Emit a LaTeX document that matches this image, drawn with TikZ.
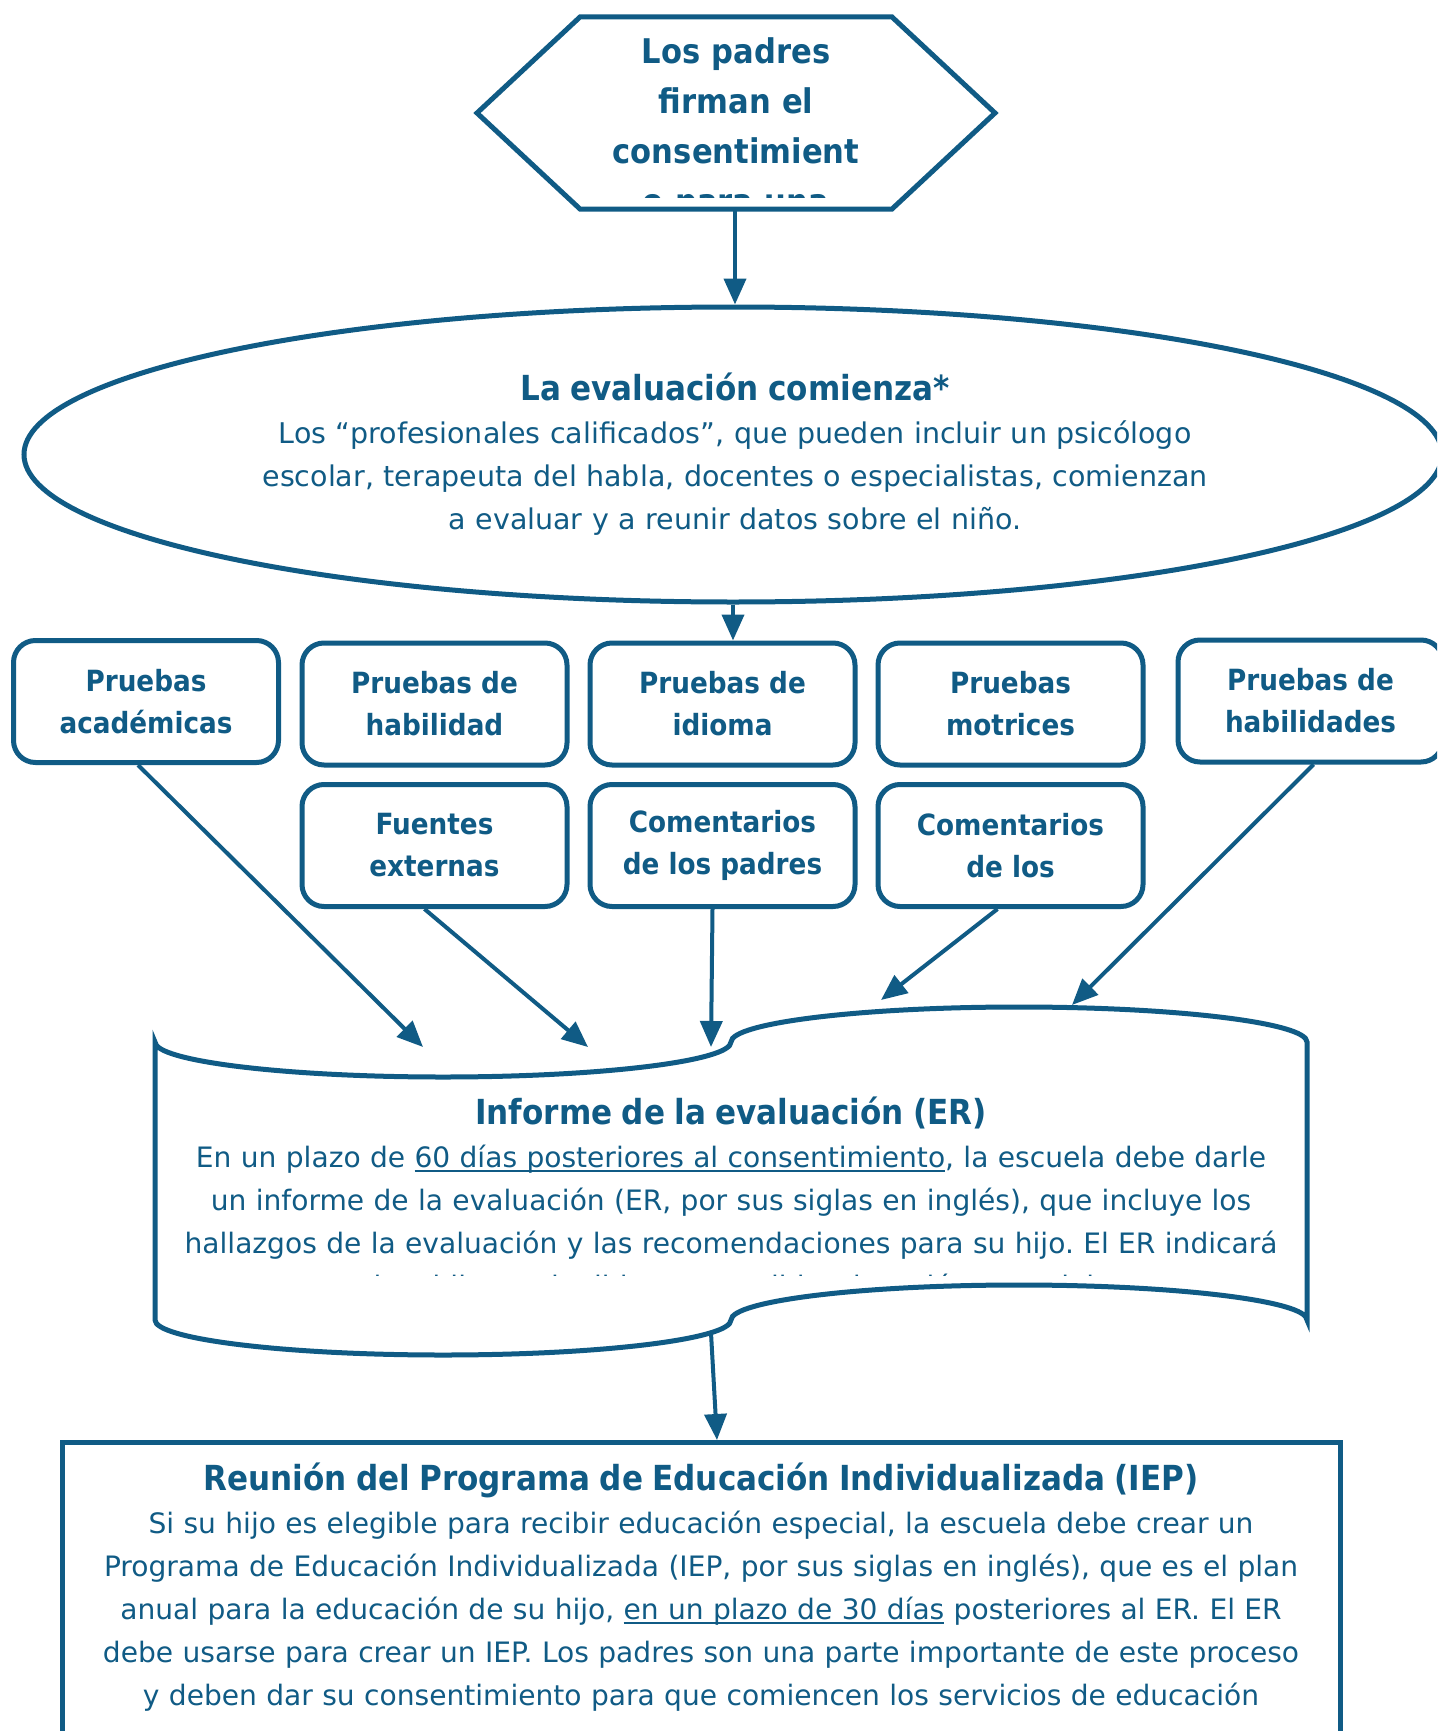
\documentclass[tikz,border=0pt]{standalone}
\usepackage{fontspec}
\setmainfont{DejaVu Sans}[BoldFont={DejaVu Sans Condensed Bold}]
\usetikzlibrary{shapes.geometric, arrows.meta}
\definecolor{azul}{RGB}{16,91,133}
\newcommand{\subrayado}[1]{\setbox0\hbox{#1}\rlap{\rule[-5pt]{\wd0}{2pt}}\box0\relax}
\frenchspacing
\tikzset{
  borde/.style={draw=azul, line width=5pt},
  prueba/.style={borde, rounded corners=22pt, minimum width=265pt, minimum height=122pt,
    align=center, text=azul, inner sep=0pt, font=\bfseries\fontsize{29.2}{42}\selectfont},
  texto/.style={text=azul, align=center, text width=1300pt, inner sep=0pt, anchor=base,
    font=\fontsize{28.1}{43}\selectfont},
  flecha/.style={azul, line width=4pt, -{Triangle[length=26pt,width=22pt]}}
}
\begin{document}
\begin{tikzpicture}[x=1pt, y=-1pt]
  \useasboundingbox (0,0) rectangle (1437,1731);
  \clip (0,0) rectangle (1437,1731);
  \fill[white] (0,0) rectangle (1437,1731);

  % Hexágono
  \draw[borde] (580,17) -- (892,17) -- (995,113) -- (892,209) -- (580,209) -- (477,113) -- cycle;
  \coordinate (hexS) at (735,209);
  \begin{scope}
    \clip (477,17) rectangle (995,198);
    \node[texto, text width=440pt, font=\bfseries\fontsize{34}{50}\selectfont] (firma) at (736,64)
      {Los padres\\firman el\\consentimient\\o para una};
  \end{scope}

  % Elipse
  \node[borde, ellipse, minimum width=1418pt, minimum height=295pt, inner sep=0pt] (eval) at (733,454.5) {};
  \node[texto, font=\fontsize{28.5}{43}\selectfont] (evaltxt) at (735,400)
    {{\bfseries\fontsize{34.5}{43}\selectfont La evaluación comienza*}\\
     Los “profesionales calificados”, que pueden incluir un psicólogo\\
     escolar, terapeuta del habla, docentes o especialistas, comienzan\\
     a evaluar y a reunir datos sobre el niño.};
  \draw[flecha] (hexS) -- (hexS |- eval.north);

  % Cajas de pruebas
  \foreach \nombre/\x/\y/\texto in {
      acad/146/701.5/{Pruebas\\académicas},
      habil/434.5/704/{Pruebas de\\habilidad},
      idioma/722.5/704/{Pruebas de\\idioma},
      motr/1010.5/704/{Pruebas\\motrices},
      habs/1310.5/701/{Pruebas de\\habilidades},
      fuent/434.5/845.5/{Fuentes\\externas},
      padres/722.5/845.5/{Comentarios\\de los padres},
      maes/1010.5/845.5/{Comentarios\\de los}}
    \node[prueba] (\nombre) at (\x,\y) {\texto};
  \draw[flecha] (eval.south) -- (eval.south |- idioma.north);

  % Informe (cinta)
  \draw[borde] (155,1042) .. controls (155,1061) and (284,1077) .. (443,1077)
    .. controls (602,1077) and (731,1061) .. (731,1042)
    .. controls (731,1023) and (860,1007) .. (1019,1007)
    .. controls (1178,1007) and (1307,1023) .. (1307,1042) -- (1307,1320)
    .. controls (1307,1301) and (1178,1285) .. (1019,1285)
    .. controls (860,1285) and (731,1301) .. (731,1320)
    .. controls (731,1339) and (602,1355) .. (443,1355)
    .. controls (284,1355) and (155,1339) .. (155,1320) -- cycle;
  \coordinate (inf1) at (423,1047);
  \coordinate (inf2) at (588,1047);
  \coordinate (inf3) at (711,1047);
  \coordinate (inf4) at (881,1000);
  \coordinate (inf5) at (1072,1005);
  \coordinate (infS) at (711,1333);
  \begin{scope}
    \clip (150,1080) rectangle (1310,1275);
    \node[texto] (inftxt) at (731,1124)
      {{\bfseries\fontsize{34.5}{43}\selectfont Informe de la evaluación (ER)}\\
       En un plazo de \subrayado{60 días posteriores al consentimiento}, la escuela debe darle\\
       un informe de la evaluación (ER, por sus siglas en inglés), que incluye los\\
       hallazgos de la evaluación y las recomendaciones para su hijo. El ER indicará\\
       si su hijo es elegible para recibir educación especial.};
  \end{scope}
  \draw[flecha] ([xshift=-8pt]acad.south) -- (inf1);
  \draw[flecha] ([xshift=-10pt]fuent.south) -- (inf2);
  \draw[flecha] ([xshift=-10pt]padres.south) -- (inf3);
  \draw[flecha] ([xshift=-13pt]maes.south) -- (inf4);
  \draw[flecha] ([xshift=3pt]habs.south) -- (inf5);

  % Reunión IEP
  \node[borde, minimum width=1278pt, minimum height=360pt, inner sep=0pt, anchor=north] (iep) at (701,1440) {};
  \node[texto] (ieptxt) at (701,1490)
    {{\bfseries\fontsize{34.5}{43}\selectfont Reunión del Programa de Educación Individualizada (IEP)}\\
     Si su hijo es elegible para recibir educación especial, la escuela debe crear un\\
     Programa de Educación Individualizada (IEP, por sus siglas en inglés), que es el plan\\
     anual para la educación de su hijo, \subrayado{en un plazo de 30 días} posteriores al ER. El ER\\
     debe usarse para crear un IEP. Los padres son una parte importante de este proceso\\
     y deben dar su consentimiento para que comiencen los servicios de educación};
  \draw[flecha] (infS) -- ([xshift=16pt]iep.north);
\end{tikzpicture}
\end{document}
